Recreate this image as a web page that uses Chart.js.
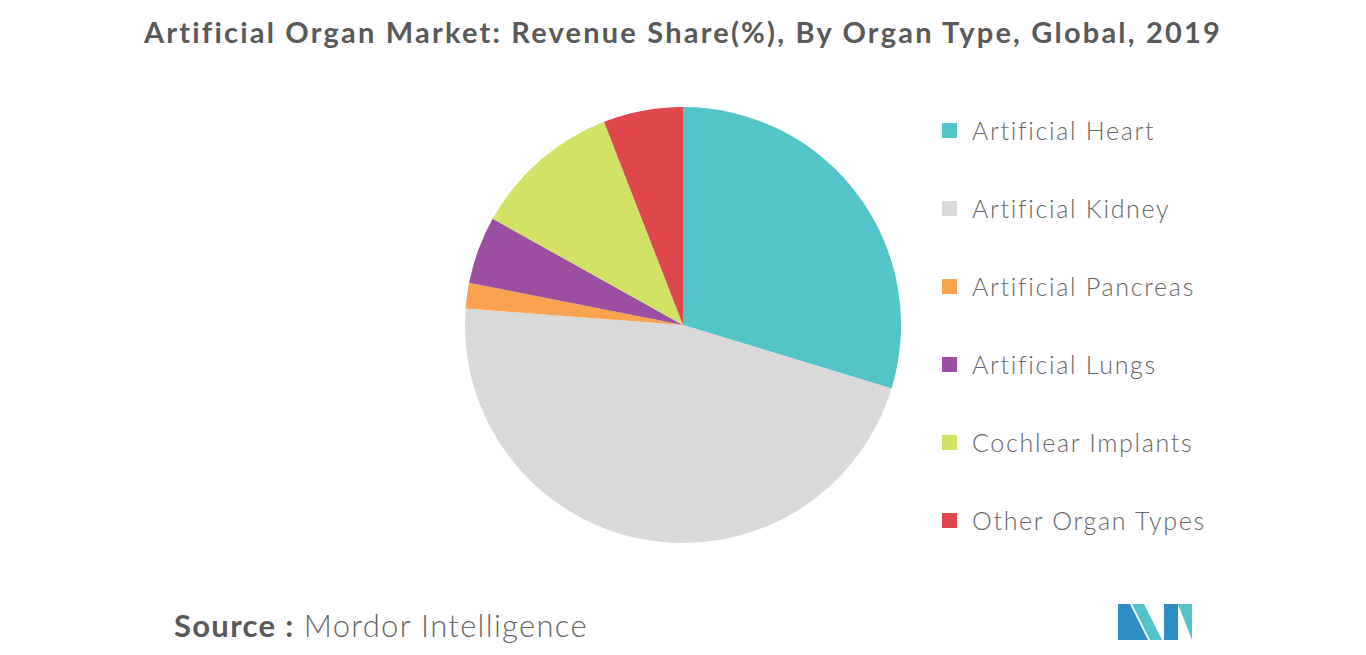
<!DOCTYPE html>
<html><head><meta charset="utf-8">
<script src="https://cdn.jsdelivr.net/npm/chart.js@4/dist/chart.umd.min.js"></script>
<style>
body{margin:0;width:1366px;height:655px;background:#fff;font-family:Lato,sans-serif;position:relative;overflow:hidden}
#title{position:absolute;top:14px;left:0;width:1366px;text-align:center;font-size:29px;font-weight:bold;color:#595959;letter-spacing:2.2px}
#pie{position:absolute;left:465px;top:107px;width:436px;height:436px}
#legend{position:absolute;left:942px;top:115px}
.item{height:78px;font-size:25px;color:#666;font-weight:300;display:flex;align-items:flex-start;letter-spacing:1.7px}
.box{width:15px;height:15px;margin:8px 15px 0 0}
#source{position:absolute;left:174px;top:606px;font-size:31px;color:#666;letter-spacing:1.3px}
#source b{color:#595959}
#logo{position:absolute;left:1118px;top:604px}
</style></head><body>
<div id="title">Artificial Organ Market: Revenue Share(%), By Organ Type, Global, 2019</div>
<div id="pie"><canvas id="c"></canvas></div>
<div id="legend"></div>
<div id="source"><b>Source :</b> <span style="font-weight:300">Mordor Intelligence</span></div>
<svg id="logo" width="74" height="36" viewBox="0 0 74 36">
<polygon points="0,36 0,0 12,0 30,36" fill="#2e8fc4"/>
<polygon points="14,0 26,0 44,36 32,36" fill="#52c4ca"/>
<polygon points="46,36 46,0 60,0 60,36" fill="#2e8fc4"/>
<polygon points="60,0 74,0 74,36" fill="#52c4ca"/>
</svg>
<script>
const organTypes = ['Artificial Heart', 'Artificial Kidney', 'Artificial Pancreas', 'Artificial Lungs', 'Cochlear Implants', 'Other Organ Types'];
const shares = [29.7, 46.5, 1.9, 5.0, 11.0, 5.9];
const colors = ['#52c4ca', '#d9d9d9', '#f9a350', '#9b4fa0', '#d1e264', '#e0474c'];

const legend = document.getElementById('legend');
organTypes.forEach((name, i) => {
  legend.innerHTML += '<div class="item"><div class="box" style="background:' + colors[i] + '"></div>' + name + '</div>';
});

new Chart(document.getElementById('c'), {
  type: 'pie',
  data: {
    labels: organTypes,
    datasets: [{ data: shares, backgroundColor: colors, borderWidth: 0 }]
  },
  options: {
    responsive: true,
    maintainAspectRatio: false,
    animation: false,
    plugins: { legend: { display: false }, tooltip: { enabled: false } }
  }
});
</script>
</body></html>
